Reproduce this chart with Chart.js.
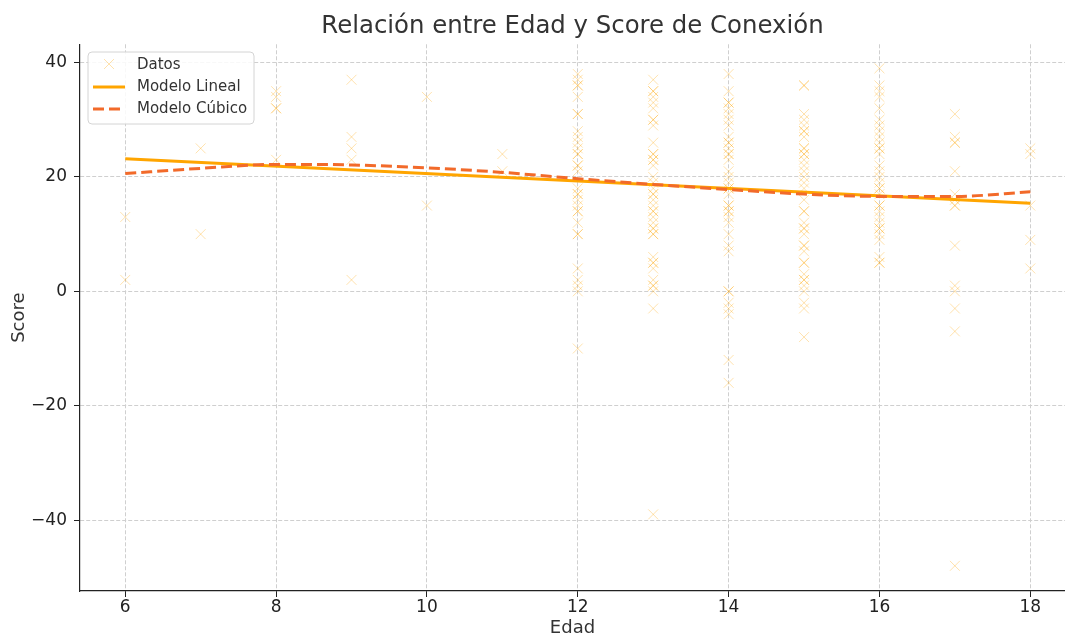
<!DOCTYPE html>
<html><head><meta charset="utf-8">
<script src="https://cdn.jsdelivr.net/npm/chart.js@4"></script>
<style>html,body{margin:0;padding:0;background:#fff;} canvas{display:block;}</style>
</head><body>
<canvas id="c" width="1065" height="635"></canvas>
<script>
// ---- data ----
const ages = [6, 7, 8, 9, 10, 11, 12, 13, 14, 15, 16, 17, 18];
const scoresByAge = [
  [13, 2],
  [25, 10],
  [35, 34, 32, 32, 23],
  [37, 27, 25, 23, 2],
  [34, 15],
  [24, 21],
  [38, 37, 36, 36, 34, 31, 31, 28, 27, 26, 25, 24, 24, 22, 22, 21, 18, 17, 17, 16, 15, 14, 14, 12, 10, 10, 4, 2, 1, 0, -10],
  [37, 35, 35, 34, 33, 32, 30, 30, 29, 26, 24, 24, 23, 23, 22, 20, 19, 18, 17, 17, 16, 15, 14, 14, 13, 12, 11, 11, 10, 10, 6, 5, 5, 4, 2, 1, 1, 0, -3, -39],
  [38, 35, 33, 33, 32, 31, 30, 29, 27, 26, 26, 25, 24, 24, 23, 21, 20, 19, 18, 18, 17, 15, 15, 14, 14, 13, 12, 10, 8, 7, 0, 0, -2, -3, -4, -12, -16],
  [36, 36, 31, 30, 29, 28, 28, 27, 25, 25, 24, 24, 23, 22, 21, 20, 19, 18, 16, 14, 14, 12, 11, 11, 10, 8, 8, 7, 5, 5, 3, 2, 2, 1, 0, -2, -3, -8],
  [39, 36, 35, 34, 32, 30, 29, 28, 27, 26, 25, 25, 24, 22, 21, 20, 19, 18, 18, 17, 15, 15, 14, 13, 12, 11, 11, 10, 9, 6, 5, 5],
  [31, 27, 26, 26, 21, 17, 16, 15, 15, 8, 1, 0, -3, -7, -48],
  [25, 24, 15, 9, 4]
];
const linearX = [6, 18];
const linearY = [23.2, 15.4];
const cubicX = [6, 7, 8, 9, 10, 11, 12, 13, 14, 15, 16, 17, 18];
const cubicY = [20.6, 21.5, 22.2, 22.1, 21.6, 20.8, 19.7, 18.7, 17.8, 17.0, 16.6, 16.6, 17.4];
const xTicks = [6, 8, 10, 12, 14, 16, 18];
const yTicks = [-40, -20, 0, 20, 40];
const labels = ['Datos', 'Modelo Lineal', 'Modelo Cúbico'];
const titleText = 'Relación entre Edad y Score de Conexión';

// ---- build library data ----
const scatterPts = [];
ages.forEach((a, i) => scoresByAge[i].forEach(s => scatterPts.push({x: a, y: s})));
const linePts = linearX.map((x, i) => ({x, y: linearY[i]}));
const cubicPts = cubicX.map((x, i) => ({x, y: cubicY[i]}));

const FONT = "'DejaVu Sans', sans-serif";
const C_PTS = 'rgba(255,165,0,0.32)';
const C_LIN = '#FFA500';
const C_CUB = '#F26A2A';

const legendPlugin = {
  id: 'innerLegend',
  afterDraw(chart) {
    const ctx = chart.ctx;
    const x = 88, y = 52, w = 166, h = 72, r = 4;
    ctx.save();
    ctx.beginPath();
    ctx.moveTo(x + r, y);
    ctx.arcTo(x + w, y, x + w, y + h, r);
    ctx.arcTo(x + w, y + h, x, y + h, r);
    ctx.arcTo(x, y + h, x, y, r);
    ctx.arcTo(x, y, x + w, y, r);
    ctx.closePath();
    ctx.fillStyle = 'rgba(255,255,255,0.85)';
    ctx.fill();
    ctx.strokeStyle = '#d4d4d4';
    ctx.lineWidth = 1;
    ctx.stroke();
    ctx.strokeStyle = C_PTS;
    ctx.lineWidth = 1;
    const mx = 109, my = 64, d = 5;
    ctx.beginPath();
    ctx.moveTo(mx - d, my - d); ctx.lineTo(mx + d, my + d);
    ctx.moveTo(mx - d, my + d); ctx.lineTo(mx + d, my - d);
    ctx.stroke();
    ctx.strokeStyle = C_LIN; ctx.lineWidth = 3;
    ctx.beginPath(); ctx.moveTo(93, 87); ctx.lineTo(125, 87); ctx.stroke();
    ctx.strokeStyle = C_CUB; ctx.setLineDash([11, 5]);
    ctx.beginPath(); ctx.moveTo(93, 109); ctx.lineTo(125, 109); ctx.stroke();
    ctx.setLineDash([]);
    ctx.fillStyle = '#333';
    ctx.font = '15px ' + FONT;
    ctx.textBaseline = 'middle';
    ctx.fillText(labels[0], 137, 65);
    ctx.fillText(labels[1], 137, 87);
    ctx.fillText(labels[2], 137, 109);
    ctx.restore();
  }
};

new Chart(document.getElementById('c'), {
  type: 'scatter',
  data: {
    datasets: [
      {label: labels[0], data: scatterPts, pointStyle: 'crossRot', radius: 7, pointRadius: 7,
       borderColor: C_PTS, backgroundColor: C_PTS, borderWidth: 1, order: 3},
      {label: labels[1], type: 'line', data: linePts, borderColor: C_LIN, borderWidth: 3,
       pointRadius: 0, fill: false, order: 2},
      {label: labels[2], type: 'line', data: cubicPts, borderColor: C_CUB, borderWidth: 3,
       borderDash: [11, 5], pointRadius: 0, fill: false, tension: 0.4,
       cubicInterpolationMode: 'monotone', order: 1}
    ]
  },
  options: {
    responsive: false,
    animation: false,
    devicePixelRatio: 1,
    layout: {autoPadding: false, padding: {left: 0, right: 0, top: 0, bottom: 0}},
    plugins: {
      legend: {display: false},
      tooltip: {enabled: false},
      title: {display: true, text: titleText, color: '#333', fullSize: false,
              font: {family: FONT, size: 24.4, weight: 'normal'}, padding: {top: 12, bottom: 3}}
    },
    scales: {
      x: {
        type: 'linear', min: 5.4, max: 18.46,
        afterFit(s) { s.height = 44; s.paddingLeft = 0; s.paddingRight = 0; },
        afterBuildTicks(s) { s.ticks = xTicks.map(v => ({value: v})); },
        ticks: {color: '#222', font: {family: FONT, size: 17}, padding: 0, includeBounds: false},
        grid: {color: '#cfcfcf', lineWidth: 1, tickLength: 6, tickColor: '#222', tickWidth: 1, tickBorderDash: []},
        border: {display: true, color: '#222', width: 1.2, dash: [4, 2]},
        title: {display: true, text: 'Edad', color: '#333', font: {family: FONT, size: 18, lineHeight: 1}, padding: {top: 0, bottom: -2}}
      },
      y: {
        type: 'linear', min: -52.4, max: 43.2,
        afterFit(s) { s.width = 80; s.paddingTop = 0; s.paddingBottom = 0; },
        afterBuildTicks(s) { s.ticks = yTicks.map(v => ({value: v})); },
        ticks: {color: '#222', font: {family: FONT, size: 17}, padding: 7, includeBounds: false,
                callback: v => String(v).replace('-', '\u2212')},
        grid: {color: '#cfcfcf', lineWidth: 1, tickLength: 6, tickColor: '#222', tickWidth: 1, tickBorderDash: []},
        border: {display: true, color: '#222', width: 1.2, dash: [4, 2]},
        title: {display: true, text: 'Score', color: '#333', font: {family: FONT, size: 18, lineHeight: 1.2}, padding: {top: 9, bottom: 0}}
      }
    }
  },
  plugins: [legendPlugin]
});
</script>
</body></html>
